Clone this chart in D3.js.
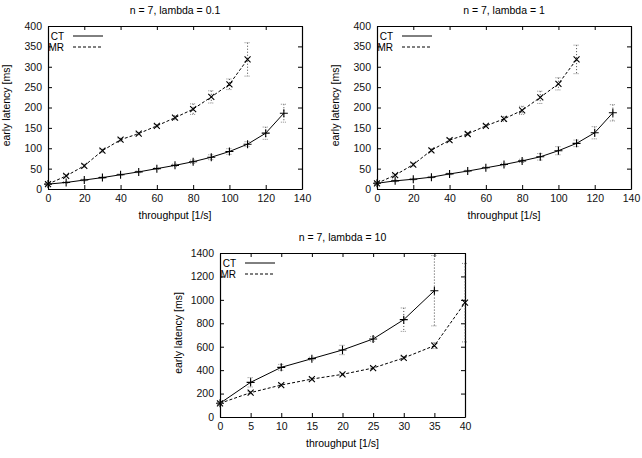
<!DOCTYPE html>
<html>
<head>
<meta charset="utf-8">
<script src="https://cdn.jsdelivr.net/npm/d3@7"></script>
<style>
  body { margin: 0; background: #fff; }
  svg text { font-family: "Liberation Sans", Arial, sans-serif; font-size: 10.5px; fill: #000; }
</style>
</head>
<body>
<div id="chart"></div>
<script>
// data
var xA = [0, 10, 20, 30, 40, 50, 60, 70, 80, 90, 100, 110, 120, 130];
var xB = [0, 5, 10, 15, 20, 25, 30, 35, 40];

// lambda = 0.1
var ct01 = [12, 16, 22, 28, 35, 42, 50, 58, 67, 78, 92, 110, 137, 186];
var ct01Err = [2, 2, 2, 2, 2, 2, 2, 3, 4, 6, 7, 6, 15, 22];
var mr01 = [12, 32, 57, 94, 121, 136, 155, 175, 196, 226, 257, 318];
var mr01Err = [3, 3, 4, 4, 4, 3, 3, 5, 13, 15, 13, 41];

// lambda = 1
var ct1 = [14, 20, 24, 29, 37, 44, 52, 60, 69, 79, 94, 112, 138, 187];
var ct1Err = [2, 2, 2, 2, 2, 2, 2, 3, 4, 8, 10, 8, 15, 20];
var mr1 = [14, 34, 60, 95, 120, 135, 155, 172, 193, 225, 258, 318];
var mr1Err = [3, 3, 4, 4, 4, 3, 3, 6, 10, 15, 15, 35];

// lambda = 10
var ct10 = [117, 296, 424, 498, 572, 666, 831, 1078];
var ct10Err = [10, 40, 25, 12, 40, 20, 100, 300];
var mr10 = [117, 208, 273, 324, 364, 418, 504, 609, 976];
var mr10Err = [8, 10, 10, 10, 10, 10, 12, 25, 335];

var titles = ["n = 7, lambda = 0.1", "n = 7, lambda = 1", "n = 7, lambda = 10"];
var ticksA = {x: d3.range(0, 141, 20), y: d3.range(0, 401, 50)};
var ticksB = {x: d3.range(0, 41, 5), y: d3.range(0, 1401, 200)};

var W = 642, H = 458;
var svg = d3.select("#chart").append("svg")
  .attr("width", W)
  .attr("height", H);
svg.append("rect").attr("width", W).attr("height", H).attr("fill", "#fff");

var fmt = d3.format("d");

function drawPanel(p) {
  var x = d3.scaleLinear().domain(p.xDom).range([p.left, p.right]);
  var y = d3.scaleLinear().domain(p.yDom).range([p.bottom, p.top]);
  var g = svg.append("g");

  // axes, ticks pointing inside, mirrored on top/right
  g.append("g")
    .attr("transform", "translate(0," + p.bottom + ")")
    .call(d3.axisBottom(x).tickValues(p.ticks.x).tickFormat(fmt).tickSize(-4).tickPadding(6).tickSizeOuter(0));
  g.append("g")
    .attr("transform", "translate(" + p.left + ",0)")
    .call(d3.axisLeft(y).tickValues(p.ticks.y).tickFormat(fmt).tickSize(-4).tickPadding(6).tickSizeOuter(0));
  g.append("g")
    .attr("transform", "translate(0," + p.top + ")")
    .call(d3.axisTop(x).tickValues(p.ticks.x).tickSize(-4).tickSizeOuter(0).tickFormat(""));
  g.append("g")
    .attr("transform", "translate(" + p.right + ",0)")
    .call(d3.axisRight(y).tickValues(p.ticks.y).tickSize(-4).tickSizeOuter(0).tickFormat(""));
  g.selectAll(".domain").attr("stroke", "#000").attr("stroke-width", 1.2);
  g.selectAll(".tick line").attr("stroke", "#000");
  g.selectAll(".tick text").style("font-size", "10.5px").style("fill", "#111");

  // titles and axis labels
  g.append("text")
    .attr("x", (p.left + p.right) / 2)
    .attr("y", p.top - 12)
    .attr("text-anchor", "middle")
    .text(p.title);
  g.append("text")
    .attr("x", (p.left + p.right) / 2)
    .attr("y", p.bottom + 30)
    .attr("text-anchor", "middle")
    .text("throughput [1/s]");
  g.append("text")
    .attr("transform", "translate(" + (p.left - 38) + "," + ((p.top + p.bottom) / 2 - 2) + ") rotate(-90)")
    .attr("text-anchor", "middle")
    .text("early latency [ms]");

  var series = [
    {xs: p.xs, ys: p.ct, err: p.ctErr, dash: null, mark: "plus", name: "CT"},
    {xs: p.xs, ys: p.mr, err: p.mrErr, dash: "3,2", mark: "cross", name: "MR"}
  ];

  series.forEach(function(s, si) {
    var pts = s.ys.map(function(v, i) { return [s.xs[i], v, s.err[i]]; });
    var line = d3.line().x(d => x(d[0])).y(d => y(d[1]));
    g.append("path")
      .datum(pts)
      .attr("d", line)
      .attr("fill", "none")
      .attr("stroke", "#000")
      .attr("stroke-width", 1)
      .attr("stroke-dasharray", s.dash);

    // error bars
    var eb = g.append("g").selectAll("g").data(pts).enter().append("g");
    eb.append("line")
      .attr("x1", d => x(d[0])).attr("x2", d => x(d[0]))
      .attr("y1", d => y(d[1] + d[2])).attr("y2", d => y(d[1] - d[2]))
      .attr("stroke", "#444").attr("stroke-width", 1).attr("stroke-dasharray", "1,2");
    [1, -1].forEach(function(sign) {
      eb.append("line")
        .attr("x1", d => x(d[0]) - 3).attr("x2", d => x(d[0]) + 3)
        .attr("y1", d => y(d[1] + sign * d[2])).attr("y2", d => y(d[1] + sign * d[2]))
        .attr("stroke", "#888").attr("stroke-width", 1).attr("stroke-dasharray", "1,1");
    });

    // point markers
    g.append("g").selectAll("path").data(pts).enter().append("path")
      .attr("transform", d => "translate(" + x(d[0]) + "," + y(d[1]) + ")")
      .attr("d", s.mark === "plus" ? "M-4,0H4M0,-4V4" : "M-3,-3L3,3M-3,3L3,-3")
      .attr("stroke", "#000").attr("stroke-width", 1.1).attr("fill", "none");

    // key
    var ky = p.top + 10 + si * 11;
    g.append("text")
      .attr("x", p.left + 16)
      .attr("y", ky)
      .attr("dy", "0.35em")
      .attr("text-anchor", "end")
      .style("font-size", "10px")
      .text(s.name);
    g.append("line")
      .attr("x1", p.left + 25).attr("x2", p.left + 55)
      .attr("y1", ky).attr("y2", ky)
      .attr("stroke", "#000").attr("stroke-width", 1)
      .attr("stroke-dasharray", s.dash);
  });
}

drawPanel({left: 48, right: 302, top: 26, bottom: 189, xDom: [0, 140], yDom: [0, 400],
  ticks: ticksA, title: titles[0], xs: xA, ct: ct01, ctErr: ct01Err, mr: mr01, mrErr: mr01Err});
drawPanel({left: 377, right: 631, top: 26, bottom: 189, xDom: [0, 140], yDom: [0, 400],
  ticks: ticksA, title: titles[1], xs: xA, ct: ct1, ctErr: ct1Err, mr: mr1, mrErr: mr1Err});
drawPanel({left: 220, right: 465, top: 253, bottom: 417, xDom: [0, 40], yDom: [0, 1400],
  ticks: ticksB, title: titles[2], xs: xB, ct: ct10, ctErr: ct10Err, mr: mr10, mrErr: mr10Err});
</script>
</body>
</html>
